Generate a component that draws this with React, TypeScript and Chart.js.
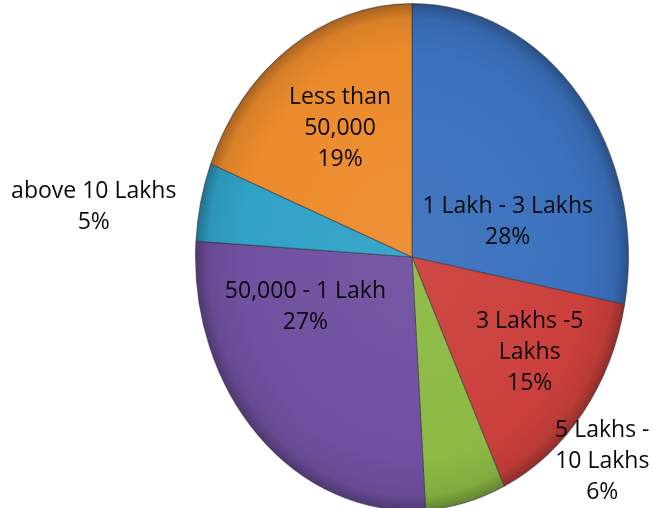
import { useEffect, useRef } from "react";
import { Chart, registerables } from "chart.js";

Chart.register(...registerables);

// ---- data ----
const categories = [
  "1 Lakh - 3 Lakhs",
  "3 Lakhs -5 Lakhs",
  "5 Lakhs - 10 Lakhs",
  "50,000 - 1 Lakh",
  "above 10 Lakhs",
  "Less than 50,000",
];
const values = [28, 15, 6, 27, 5, 19];
const labelLines = [
  ["1 Lakh - 3 Lakhs"],
  ["3 Lakhs -5", "Lakhs"],
  ["5 Lakhs -", "10 Lakhs"],
  ["50,000 - 1 Lakh"],
  ["above 10 Lakhs"],
  ["Less than", "50,000"],
];
const sliceColors = ["#3B71BD", "#CB403C", "#8CBA44", "#7050A0", "#30A2C6", "#EC8B2C"];

// ---- styling ----
const labelAngleShift = [22.3, -3, -33, 23, -5, 1]; // degrees from slice middle
const labelRadius = [0.463, 0.662, 1.194, 0.531, 1.483, 0.607]; // fraction of radius
const Y_STRETCH = 254 / 217;
const LINE_H = 31;
const FONT = '23px "Open Sans", sans-serif';

function shade(hex: string, f: number): string {
  const n = parseInt(hex.slice(1), 16);
  let r = (n >> 16) & 255, g = (n >> 8) & 255, b = n & 255;
  if (f >= 0) {
    r = r + (255 - r) * f; g = g + (255 - g) * f; b = b + (255 - b) * f;
  } else {
    r = r * (1 + f); g = g * (1 + f); b = b * (1 + f);
  }
  return `rgb(${Math.round(r)},${Math.round(g)},${Math.round(b)})`;
}

const ellipsePlugin = {
  id: "ellipse",
  beforeDatasetsDraw(chart: any) {
    const arc = chart.getDatasetMeta(0).data[0];
    if (!arc) return;
    const ctx = chart.ctx;
    ctx.save();
    ctx.translate(arc.x, arc.y);
    ctx.scale(1, Y_STRETCH);
    ctx.translate(-arc.x, -arc.y);
  },
  afterDatasetsDraw(chart: any) {
    chart.ctx.restore();
  },
};

const labelPlugin = {
  id: "sliceLabels",
  afterDraw(chart: any) {
    const ctx = chart.ctx;
    const arcs = chart.getDatasetMeta(0).data;
    ctx.save();
    ctx.font = FONT;
    ctx.fillStyle = "#0a0a0a";
    ctx.textAlign = "center";
    ctx.textBaseline = "middle";
    arcs.forEach((arc: any, i: number) => {
      const mid = (arc.startAngle + arc.endAngle) / 2 + (labelAngleShift[i] * Math.PI) / 180;
      const r = arc.outerRadius * labelRadius[i];
      const x = arc.x + Math.cos(mid) * r;
      const y = arc.y + Math.sin(mid) * r * Y_STRETCH;
      const lines = [...labelLines[i], values[i] + "%"];
      const n = lines.length;
      lines.forEach((t, k) => {
        ctx.fillText(t, x, y + (k - (n - 1) / 2) * LINE_H);
      });
    });
    ctx.restore();
  },
};

export default function App() {
  const ref = useRef<HTMLCanvasElement | null>(null);
  useEffect(() => {
    document.body.style.margin = "0";
    const canvas = ref.current!;
    const chart = new Chart(canvas, {
      type: "pie",
      data: {
        labels: categories,
        datasets: [
          {
            data: values,
            clip: false as any,
            backgroundColor: (c: any) => {
              const i = c.dataIndex;
              const base = sliceColors[i];
              const area = c.chart.chartArea;
              if (!area) return base;
              const cx = (area.left + area.right) / 2;
              const cy = (area.top + area.bottom) / 2;
              const r = Math.min(area.right - area.left, area.bottom - area.top) / 2;
              const g = c.chart.ctx.createRadialGradient(cx, cy, 0, cx, cy, r);
              g.addColorStop(0, shade(base, 0.05));
              g.addColorStop(0.8, base);
              g.addColorStop(0.94, shade(base, -0.08));
              g.addColorStop(1, shade(base, -0.3));
              return g;
            },
            borderColor: "rgba(50,50,60,0.55)",
            borderWidth: 1,
          },
        ],
      },
      options: {
        responsive: false,
        animation: false,
        events: [],
        layout: { padding: { left: 195, right: 24, top: 40, bottom: 34 } },
        plugins: {
          legend: { display: false },
          tooltip: { enabled: false },
        },
      },
      plugins: [ellipsePlugin, labelPlugin],
    });
    return () => chart.destroy();
  }, []);
  return (
    <div style={{ position: "absolute", left: 0, top: 0, width: 653, height: 508, background: "#fff" }}>
      <canvas ref={ref} width={653} height={508} style={{ display: "block" }} />
    </div>
  );
}
